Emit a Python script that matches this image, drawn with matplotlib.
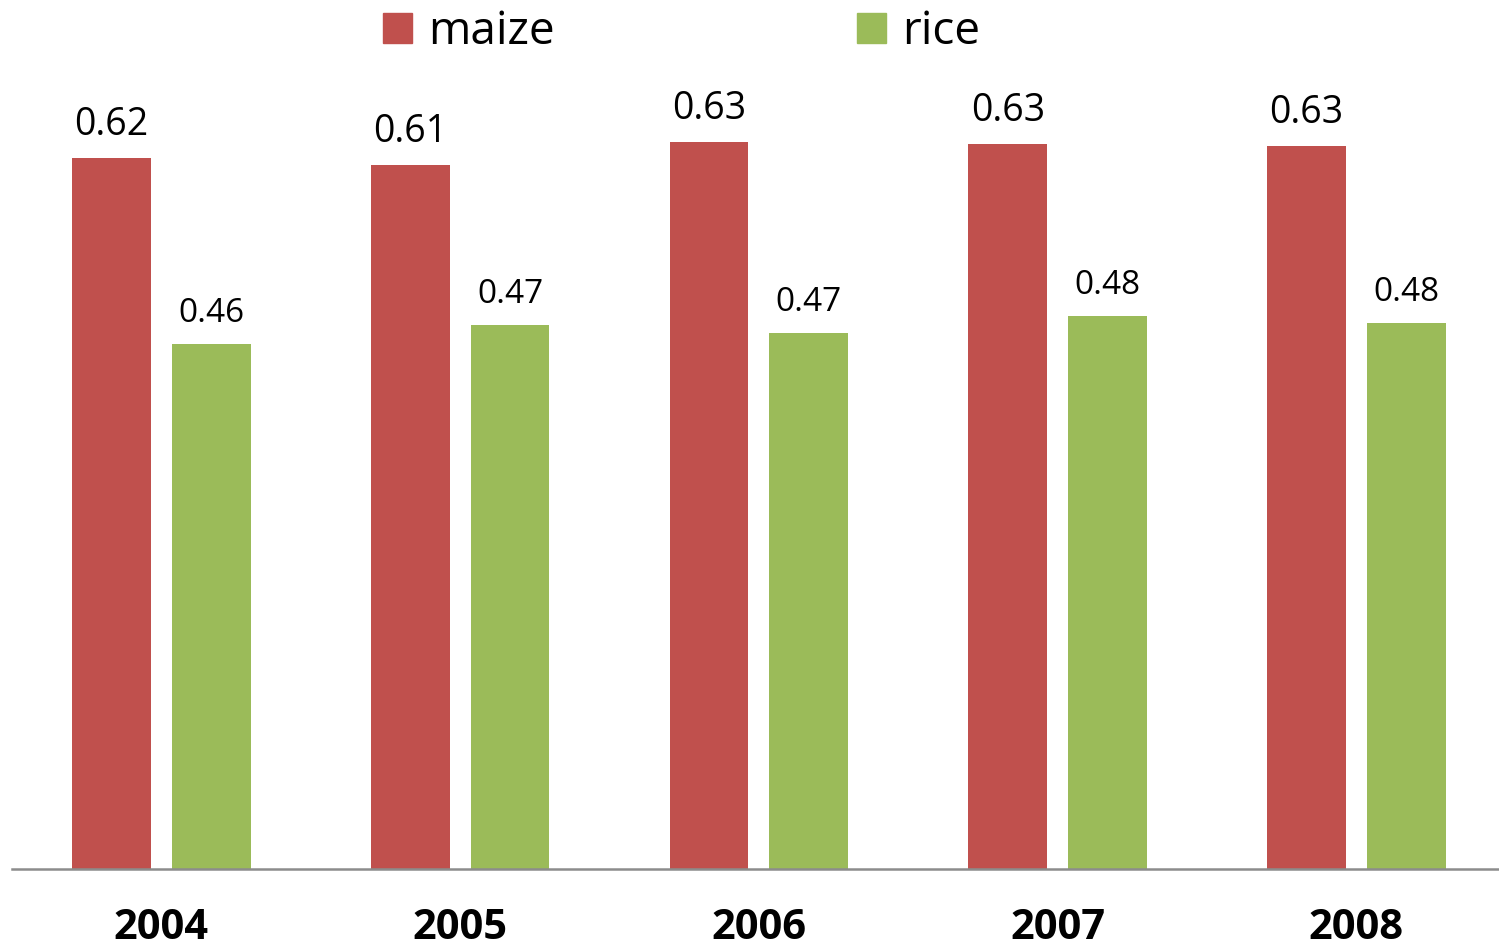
import numpy as np
import matplotlib
matplotlib.use('Agg')
import matplotlib.pyplot as plt
from matplotlib.patches import Patch

plt.rcParams['font.family'] = ['Open Sans', 'DejaVu Sans']

years = ['2004', '2005', '2006', '2007', '2008']
maize = [0.620, 0.614, 0.634, 0.632, 0.630]
rice = [0.458, 0.474, 0.467, 0.482, 0.476]

maize_color = '#C0504D'
rice_color = '#9BBB59'

fig = plt.figure(figsize=(14.99, 9.5), dpi=100)
ax = fig.add_axes([0.008, 0.0853, 0.992, 0.9147])

x = np.arange(len(years))
w = 0.264
off = 0.167
b1 = ax.bar(x - off, maize, w, color=maize_color)
b2 = ax.bar(x + off, rice, w, color=rice_color)

# value labels above bars
for rect, v in zip(b1, maize):
    ax.annotate('%.2f' % v, (rect.get_x() + rect.get_width() / 2, v),
                xytext=(0, 10), textcoords='offset points',
                ha='center', va='bottom', fontsize=27)
for rect, v in zip(b2, rice):
    ax.annotate('%.2f' % v, (rect.get_x() + rect.get_width() / 2, v),
                xytext=(0, 10), textcoords='offset points',
                ha='center', va='bottom', fontsize=24)

ax.set_xlim(-0.5, 4.477)
ax.set_ylim(0, 0.7576)
ax.set_xticks(x)
ax.set_xticklabels(years, fontsize=30, fontweight='bold')
ax.tick_params(axis='x', length=0, pad=28)
ax.set_yticks([])
for s in ['top', 'left', 'right']:
    ax.spines[s].set_visible(False)
ax.spines['bottom'].set_color('#8c8c8c')
ax.spines['bottom'].set_linewidth(1.8)

handles = [Patch(color=maize_color, label='maize'), Patch(color=rice_color, label='rice')]
fig.legend(handles=handles, loc='upper left', bbox_to_anchor=(0.2557, 0.99), ncol=2,
           frameon=False, fontsize=33, handlelength=0.63, handleheight=0.63,
           handletextpad=0.35, columnspacing=6.6, borderpad=0, borderaxespad=0)

fig.savefig('out.png', dpi=100)
